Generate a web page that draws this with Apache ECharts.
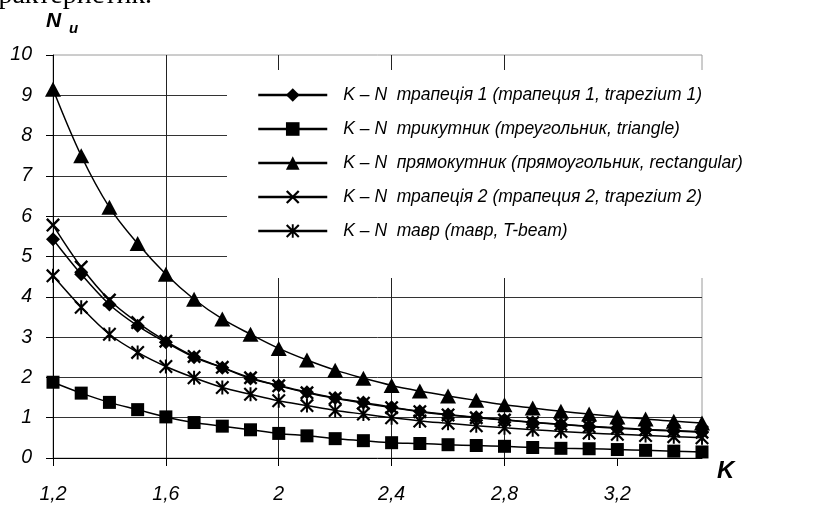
<!DOCTYPE html>
<html>
<head>
<meta charset="utf-8">
<script src="https://cdn.jsdelivr.net/npm/echarts@6/dist/echarts.min.js"></script>
<style>
  html, body { margin: 0; padding: 0; background: #fff; }
  #chart { width: 835px; height: 505px; }
</style>
</head>
<body>
<div id="chart"></div>
<script>
// Ratio K and the resulting N_u for each cross-section shape
const kValues = [1.2, 1.3, 1.4, 1.5, 1.6, 1.7, 1.8, 1.9, 2.0, 2.1, 2.2, 2.3,
                 2.4, 2.5, 2.6, 2.7, 2.8, 2.9, 3.0, 3.1, 3.2, 3.3, 3.4, 3.5];

const trapezium1 = [5.43, 4.56, 3.81, 3.28, 2.87, 2.50, 2.24, 1.97, 1.80, 1.63, 1.49, 1.38,
                    1.26, 1.16, 1.08, 1.01, 0.95, 0.89, 0.84, 0.79, 0.75, 0.71, 0.68, 0.65];
const triangle   = [1.88, 1.61, 1.38, 1.20, 1.02, 0.88, 0.79, 0.70, 0.61, 0.55, 0.48, 0.43,
                    0.38, 0.36, 0.33, 0.31, 0.29, 0.26, 0.24, 0.23, 0.21, 0.19, 0.17, 0.15];
const rectangular = [9.15, 7.50, 6.22, 5.32, 4.56, 3.94, 3.45, 3.07, 2.72, 2.43, 2.18, 1.98,
                     1.80, 1.66, 1.54, 1.43, 1.32, 1.24, 1.16, 1.09, 1.02, 0.97, 0.91, 0.87];
const trapezium2 = [5.78, 4.74, 3.92, 3.36, 2.90, 2.52, 2.25, 1.99, 1.79, 1.62, 1.48, 1.36,
                    1.25, 1.15, 1.07, 1.00, 0.94, 0.88, 0.83, 0.78, 0.74, 0.70, 0.67, 0.64];
const tBeam      = [4.52, 3.74, 3.07, 2.62, 2.27, 1.99, 1.75, 1.58, 1.42, 1.30, 1.18, 1.09,
                    1.00, 0.92, 0.86, 0.80, 0.75, 0.70, 0.66, 0.62, 0.59, 0.56, 0.53, 0.50];

const seriesNames = [
  'K – N  трапеція 1 (трапеция 1, trapezium 1)',
  'K – N  трикутник (треугольник, triangle)',
  'K – N  прямокутник (прямоугольник, rectangular)',
  'K – N  трапеція 2 (трапеция 2, trapezium 2)',
  'K – N  тавр (тавр, T-beam)'
];

const xTicks = [1.2, 1.6, 2.0, 2.4, 2.8, 3.2];

// Marker shapes: a cross and an asterisk (cross plus vertical bar)
const crossPath = 'path://M0 12L12 0L100 88L88 100ZM88 0L100 12L12 100L0 88Z';
const starPath = 'path://M0 11L11 0L100 89L89 100ZM89 0L100 11L11 100L0 89ZM43 0L57 0L57 100L43 100Z';

const FONT = '"Liberation Sans", Arial, sans-serif';

function pairs(values) {
  return kValues.map((k, i) => [k, values[i]]);
}

function makeSeries(name, values, symbol, size) {
  return {
    name: name,
    type: 'line',
    data: pairs(values),
    smooth: 0.35,
    symbol: symbol,
    symbolSize: size,
    showAllSymbol: true,
    lineStyle: { color: '#000', width: 1.5 },
    itemStyle: { color: '#000' },
    emphasis: { disabled: true },
    animation: false
  };
}

const chart = echarts.init(document.getElementById('chart'), null, { renderer: 'canvas' });

chart.setOption({
  backgroundColor: '#fff',
  animation: false,
  grid: {
    left: 53, top: 55, right: 133, bottom: 47,
    show: true, borderColor: '#9a9a9a', borderWidth: 1,
    backgroundColor: 'transparent'
  },
  xAxis: {
    type: 'value',
    min: 1.2, max: 3.5, interval: 0.4,
    axisLine: { show: true, onZero: false, lineStyle: { color: '#000', width: 1 } },
    axisTick: { show: true, length: 8, customValues: xTicks, lineStyle: { color: '#000' } },
    axisLabel: {
      customValues: xTicks,
      margin: 27,
      color: '#000',
      fontFamily: FONT, fontStyle: 'italic', fontSize: 19.5,
      formatter: v => (Math.round(v * 10) / 10).toString().replace('.', ',')
    },
    splitLine: { show: true, showMinLine: false, showMaxLine: false, lineStyle: { color: '#222', width: 1 } }
  },
  yAxis: {
    type: 'value',
    min: 0, max: 10, interval: 1,
    axisLine: { show: true, lineStyle: { color: '#000', width: 1 } },
    axisTick: { show: true, length: 7, lineStyle: { color: '#000' } },
    axisLabel: {
      margin: 21,
      color: '#000',
      fontFamily: FONT, fontStyle: 'italic', fontSize: 19.5
    },
    splitLine: { show: true, showMinLine: false, showMaxLine: false, lineStyle: { color: '#333', width: 1 } }
  },
  legend: {
    orient: 'vertical',
    left: 227, top: 70,
    padding: [16, 8, 38, 30],
    backgroundColor: '#fff',
    itemWidth: 69, itemHeight: 17, itemGap: 16,
    selectedMode: false,
    data: seriesNames,
    lineStyle: { width: 2.5 },
    textStyle: {
      color: '#000', fontFamily: FONT, fontStyle: 'italic', fontSize: 17.5,
      lineHeight: 17, padding: [0, 0, 0, 11]
    }
  },
  graphic: [
    {
      type: 'text', x: 152, y: 10, silent: true,
      style: { text: 'характеристик.', fill: '#000', font: '28px "Liberation Serif", "Times New Roman", serif',
               textAlign: 'right', textVerticalAlign: 'bottom' }
    },
    {
      type: 'text', x: 46, y: 11, silent: true,
      style: { text: 'N', fill: '#000', font: 'italic bold 21px ' + FONT }
    },
    {
      type: 'text', x: 69, y: 21, silent: true,
      style: { text: 'u', fill: '#000', font: 'italic bold 15px ' + FONT }
    },
    {
      type: 'text', x: 717, y: 459, silent: true,
      style: { text: 'K', fill: '#000', font: 'italic bold 24px ' + FONT }
    }
  ],
  series: [
    makeSeries(seriesNames[0], trapezium1, 'diamond', 14),
    makeSeries(seriesNames[1], triangle, 'rect', 13),
    makeSeries(seriesNames[2], rectangular, 'triangle', [16, 15]),
    makeSeries(seriesNames[3], trapezium2, crossPath, 14),
    makeSeries(seriesNames[4], tBeam, starPath, 14)
  ]
});
</script>
</body>
</html>
